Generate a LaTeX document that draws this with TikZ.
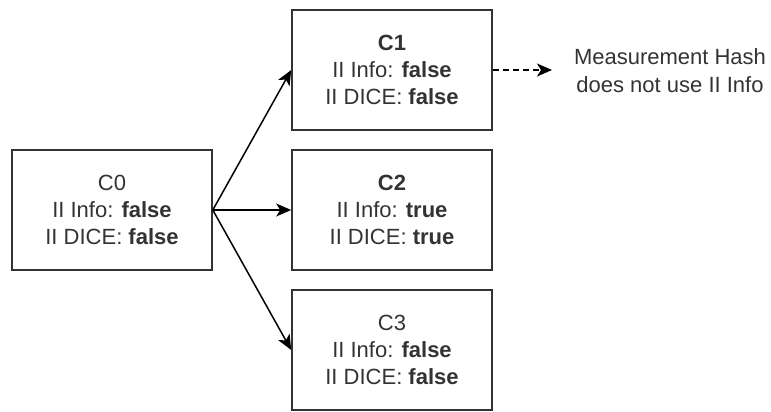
\documentclass[tikz,border=0pt]{standalone}
\usepackage{fontspec}
\setmainfont{Liberation Sans}
\usetikzlibrary{arrows.meta}
\definecolor{txt}{HTML}{333333}
\definecolor{bord}{HTML}{333333}
\begin{document}
\begin{tikzpicture}[x=1pt,y=-1pt,
  cbox/.style={draw=bord, line width=1.6pt, fill=white, minimum width=200pt, minimum height=120pt,
    align=center, text=txt, font=\fontsize{22}{27}\selectfont, inner sep=0pt},
  link/.style={line width=1.5pt, draw=black, -{Stealth[length=15pt,width=13pt,inset=4pt]}},
  note/.style={align=center, text=txt, font=\fontsize{22}{28}\selectfont, inner sep=0pt}]
\useasboundingbox (0,0) rectangle (771,412);
\node[cbox] (c0) at (112,210) {C0\\II Info: \textbf{false}\\II DICE: \textbf{false}};
\node[cbox] (c1) at (392,70) {\textbf{C1}\\II Info: \textbf{false}\\II DICE: \textbf{false}};
\node[cbox] (c2) at (392,210) {\textbf{C2}\\II Info: \textbf{true}\\II DICE: \textbf{true}};
\node[cbox] (c3) at (392,350) {C3\\II Info: \textbf{false}\\II DICE: \textbf{false}};
\node[note] (nt) at (670,71) {Measurement Hash\\does not use II Info};
\coordinate (tip) at (552,70);
\draw[link] (c0.east) -- (c1.west);
\draw[link] (c0.east) -- (c2.west);
\draw[link] (c0.east) -- (c3.west);
\draw[link, dash pattern=on 6pt off 4pt] (c1.east) -- (tip);
\end{tikzpicture}
\end{document}
